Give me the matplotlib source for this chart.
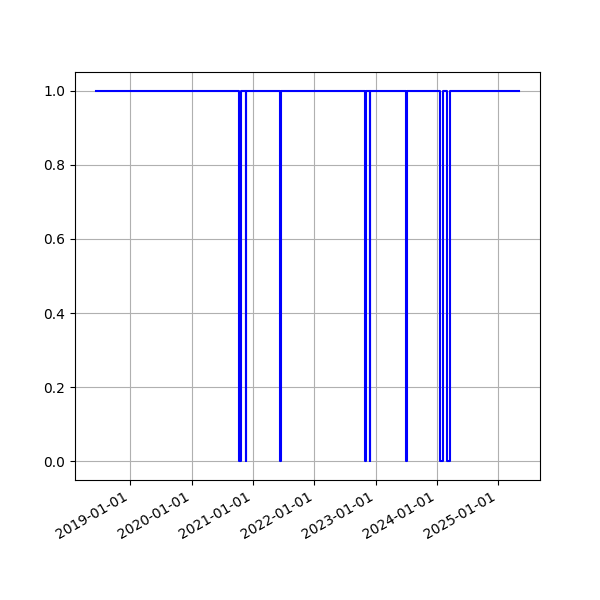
import pandas as pd
import matplotlib
matplotlib.use('Agg')
import matplotlib.pyplot as plt
import matplotlib.dates as mdates

# change points of the on/off status (step plot, value holds until next date)
dates = ['2018-06-11',
         '2020-10-12', '2020-10-24',
         '2020-11-20', '2020-11-23',
         '2021-06-08', '2021-06-15',
         '2022-11-01', '2022-11-03',
         '2022-11-28', '2022-11-30',
         '2023-07-03', '2023-07-10',
         '2024-01-18', '2024-02-08',
         '2024-03-01', '2024-03-22',
         '2025-05-04']
status = [1,
          0, 1,
          0, 1,
          0, 1,
          0, 1,
          0, 1,
          0, 1,
          0, 1,
          0, 1,
          1]

x = pd.to_datetime(dates)

fig, ax = plt.subplots(figsize=(6, 6), dpi=100)
ax.step(x, status, where='post', color='blue', linewidth=1.5)
ax.grid(True)
ax.xaxis.set_major_locator(mdates.YearLocator())
ax.xaxis.set_major_formatter(mdates.DateFormatter('%Y-%m-%d'))
fig.autofmt_xdate()

plt.savefig('out.png')
